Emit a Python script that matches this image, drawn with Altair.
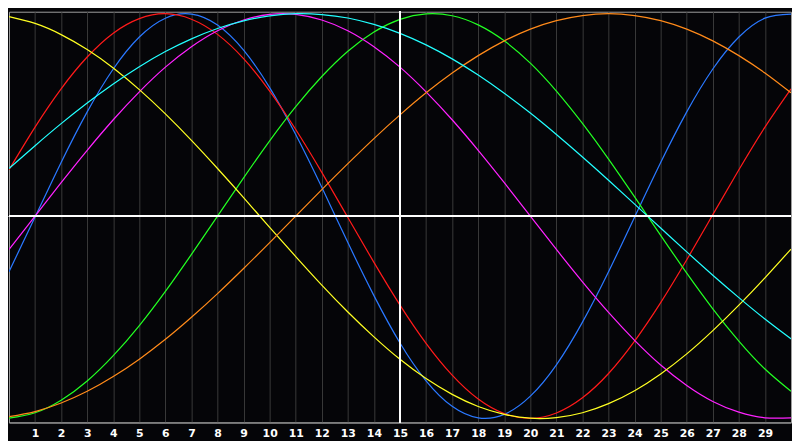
import altair as alt
import pandas as pd

# Day index along the x axis
days = list(range(31))
tick_days = list(range(1, 30))

# Values (-1 .. 1), one per day 0..30
physical_23 = [-0.275, -0.005, 0.265, 0.515, 0.727, 0.885, 0.978, 0.998, 0.944, 0.820,
               0.635, 0.403, 0.142, -0.131, -0.393, -0.627, -0.814, -0.940, -0.997, -0.980,
               -0.890, -0.735, -0.524, -0.275, -0.005, 0.265, 0.515, 0.727, 0.885, 0.978, 0.998]
emotional_28 = [0.229, 0.440, 0.629, 0.786, 0.904, 0.976, 1.000, 0.973, 0.898, 0.778,
                0.618, 0.428, 0.216, -0.007, -0.229, -0.440, -0.629, -0.786, -0.904, -0.976,
                -1.000, -0.973, -0.898, -0.778, -0.618, -0.428, -0.216, 0.007, 0.229, 0.440, 0.629]
intellectual_33 = [-0.999, -0.972, -0.910, -0.815, -0.690, -0.541, -0.372, -0.189, 0.000, 0.189,
                   0.372, 0.541, 0.690, 0.815, 0.910, 0.972, 0.999, 0.990, 0.945, 0.866,
                   0.756, 0.618, 0.458, 0.282, 0.095, -0.095, -0.282, -0.458, -0.618, -0.756, -0.866]
intuitive_38 = [-0.165, 0.000, 0.165, 0.325, 0.476, 0.614, 0.736, 0.837, 0.916, 0.969,
                0.997, 0.997, 0.969, 0.916, 0.837, 0.736, 0.614, 0.476, 0.325, 0.165,
                0.000, -0.165, -0.325, -0.476, -0.614, -0.736, -0.837, -0.916, -0.969, -0.997, -0.997]
aesthetic_43 = [0.986, 0.952, 0.897, 0.823, 0.732, 0.625, 0.505, 0.374, 0.235, 0.091,
                -0.056, -0.200, -0.341, -0.474, -0.597, -0.708, -0.803, -0.881, -0.941, -0.980,
                -0.999, -0.996, -0.972, -0.927, -0.863, -0.780, -0.681, -0.566, -0.440, -0.305, -0.163]
awareness_48 = [-0.991, -0.966, -0.924, -0.866, -0.793, -0.707, -0.609, -0.500, -0.383, -0.259,
                -0.131, 0.000, 0.131, 0.259, 0.383, 0.500, 0.609, 0.707, 0.793, 0.866,
                0.924, 0.966, 0.991, 1.000, 0.991, 0.966, 0.924, 0.866, 0.793, 0.707, 0.609]
spiritual_53 = [0.235, 0.348, 0.457, 0.559, 0.653, 0.738, 0.813, 0.876, 0.927, 0.965,
                0.989, 1.000, 0.996, 0.979, 0.947, 0.903, 0.846, 0.777, 0.697, 0.607,
                0.509, 0.403, 0.292, 0.177, 0.059, -0.059, -0.177, -0.292, -0.403, -0.509, -0.607]

series_names = ["Physical", "Emotional", "Intellectual", "Intuitive",
                "Aesthetic", "Awareness", "Spiritual"]
series_values = [physical_23, emotional_28, intellectual_33, intuitive_38,
                 aesthetic_43, awareness_48, spiritual_53]
series_colors = ["#2a78ff", "#ff1a1a", "#22ff22", "#ff22ff",
                 "#ffff22", "#ff8a1a", "#22ffff"]

rows = []
for name, vals in zip(series_names, series_values):
    for d, v in zip(days, vals):
        rows.append({"day": d, "value": v, "cycle": name})
df = pd.DataFrame(rows)

x_scale = alt.Scale(domain=[0, 30], nice=False, zero=False)
y_scale = alt.Scale(domain=[-1.02, 1.01], nice=False, zero=False)

x_axis = alt.Axis(values=tick_days, tickCount=40, title=None, ticks=False, grid=True,
                  gridColor="#3a3a3a", gridWidth=1, domainColor="#a0a0a0",
                  labelColor="#ffffff", labelFont="DejaVu Sans", labelFontWeight="bold",
                  labelFontSize=11, labelPadding=5, labelFlush=False,
                  labelOverlap=False)

base = alt.Chart(df)

lines = base.mark_line(strokeWidth=1.25, interpolate="natural", clip=True).encode(
    x=alt.X("day:Q", scale=x_scale, axis=x_axis),
    y=alt.Y("value:Q", scale=y_scale, axis=None),
    color=alt.Color("cycle:N", scale=alt.Scale(domain=series_names, range=series_colors),
                    legend=None),
)

vrule = base.mark_rule(color="#ffffff", strokeWidth=1).encode(
    x=alt.datum(15)
)
hrule = base.mark_rule(color="#ffffff", strokeWidth=1).encode(
    y=alt.datum(0)
)

chart = alt.layer(lines, vrule, hrule).properties(
    width=792, height=416, padding=0, background="#050508"
).configure_view(
    fill="#050508", stroke="#a0a0a0", strokeWidth=1
)

chart.save("out.html", embed_options={"renderer": "svg", "actions": False})
